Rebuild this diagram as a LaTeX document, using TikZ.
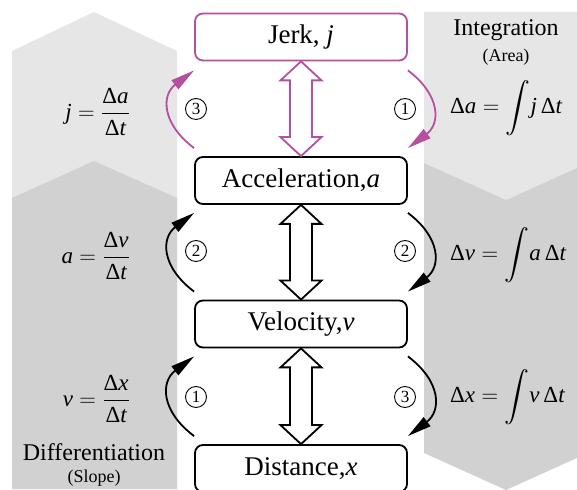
\RequirePackage{fix-cm}
\documentclass[tikz,border=0pt]{standalone}
\usepackage{amsmath}
\usepackage{fontspec}
\setmainfont{Liberation Serif}
\usetikzlibrary{calc,arrows.meta}
\definecolor{jerkc}{RGB}{181,80,160}
\definecolor{lightg}{RGB}{230,230,230}
\definecolor{darkg}{RGB}{209,209,209}
\newcommand{\vv}[1]{\textit{#1}}
\newcommand{\Dl}{\text{Δ}}
\newcommand{\bigint}{\smash{\displaystyle\int}}
\begin{document}
\begin{tikzpicture}[x=1pt,y=1pt,
  qbox/.style={draw, line width=1.8pt, rounded corners=8pt, fill=white,
    minimum width=212pt, minimum height=47pt, inner sep=0pt,
    font=\fontsize{27}{32}\selectfont},
  loopc/.style={line width=1.8pt, -{Triangle[length=24pt,width=11pt]},
    bend left=53, looseness=1.35},
  dbl/.style={line width=1.8pt, fill=white, line join=miter},
  formula/.style={inner sep=0pt, font=\fontsize{23}{27}\selectfont},
  ttl/.style={inner sep=0pt, anchor=base, font=\fontsize{24}{28}\selectfont},
  sub/.style={inner sep=0pt, anchor=base, font=\fontsize{18}{22}\selectfont},
  circ/.style={circle, draw, line width=0.9pt, inner sep=0pt, minimum size=21pt,
    font=\fontsize{17}{20}\selectfont}
]
\useasboundingbox (0,0) rectangle (577,489);
% backgrounds
\fill[lightg] (12,438) -- (94,477) -- (177,438) -- (177,0) -- (12,0) -- cycle;
\fill[darkg] (12,291) -- (94,328) -- (177,291) -- (177,0) -- (12,0) -- cycle;
\fill[lightg] (424,477) -- (588,477) -- (588,326) -- (506,289) -- (424,326) -- cycle;
\fill[darkg] (424,326) -- (506,289) -- (588,326) -- (588,36) -- (506,-1) -- (424,36) -- cycle;

% boxes
\node[qbox, draw=jerkc] (jerk) at (301,452) {Jerk, \vv{j}};
\node[qbox] (acc) at (301,308.5) {Acceleration,\vv{a}};
\node[qbox] (vel) at (301,165) {Velocity,\vv{v}};
\node[qbox] (dist) at (301,20.5) {Distance,\vv{x}};

% double arrows
\draw[dbl, draw=jerkc] (jerk.south) -- ++(-20.5,-19) -- ++(9.5,0) -- ($(acc.north)+(-11,19)$) -- ++(-9.5,0) -- (acc.north) -- ++(20.5,19) -- ++(-9.5,0) -- ($(jerk.south)+(11,-19)$) -- ++(9.5,0) -- cycle;
\draw[dbl] (acc.south) -- ++(-20.5,-19) -- ++(9.5,0) -- ($(vel.north)+(-11,19)$) -- ++(-9.5,0) -- (vel.north) -- ++(20.5,19) -- ++(-9.5,0) -- ($(acc.south)+(11,-19)$) -- ++(9.5,0) -- cycle;
\draw[dbl] (vel.south) -- ++(-20.5,-19) -- ++(9.5,0) -- ($(dist.north)+(-11,19)$) -- ++(-9.5,0) -- (dist.north) -- ++(20.5,19) -- ++(-9.5,0) -- ($(vel.south)+(11,-19)$) -- ++(9.5,0) -- cycle;

% curved arrows: left (up), right (down)
\draw[loopc, jerkc] ([yshift=8pt]acc.north west) to ([yshift=-9pt]jerk.south west);
\draw[loopc, jerkc] ([yshift=-9pt]jerk.south east) to ([yshift=8pt]acc.north east);
\draw[loopc] ([yshift=8pt]vel.north west) to ([yshift=-8pt]acc.south west);
\draw[loopc] ([yshift=-8pt]acc.south east) to ([yshift=8pt]vel.north east);
\draw[loopc] ([yshift=8pt]dist.north west) to ([yshift=-8pt]vel.south west);
\draw[loopc] ([yshift=-8pt]vel.south east) to ([yshift=8pt]dist.north east);

% circled numbers
\node[circ] (c1l) at (196,380) {3};
\node[circ] (c1r) at (405,380) {1};
\node[circ] (c2l) at (196,238) {2};
\node[circ] (c2r) at (405,238) {2};
\node[circ] (c3l) at (196,92) {1};
\node[circ] (c3r) at (405,92) {3};

% left formulas
\node[formula, anchor=east] (fj) at (130,377) {$\vv{j}=\dfrac{\Dl\vv{a}}{\Dl\vv{t}}$};
\node[formula, anchor=east] (fa) at (130,233) {$\vv{a}=\dfrac{\Dl\vv{v}}{\Dl\vv{t}}$};
\node[formula, anchor=east] (fv) at (130,90) {$\vv{v}=\dfrac{\Dl\vv{x}}{\Dl\vv{t}}$};
\node[ttl] (diff) at (94,28) {Differentiation};
\node[sub] (slope) at (94,7) {(Slope)};

% right formulas
\node[ttl] (integ) at (506,453) {Integration};
\node[sub] (area) at (506,427) {(Area)};
\node[formula, anchor=base west] (ia) at (450,375) {$\Dl\vv{a}=\bigint\vv{j}\,\Dl\vv{t}$};
\node[formula, anchor=base west] (iv) at (450,228) {$\Dl\vv{v}=\bigint\vv{a}\,\Dl\vv{t}$};
\node[formula, anchor=base west] (ix) at (450,86) {$\Dl\vv{x}=\bigint\vv{v}\,\Dl\vv{t}$};
\end{tikzpicture}
\end{document}
